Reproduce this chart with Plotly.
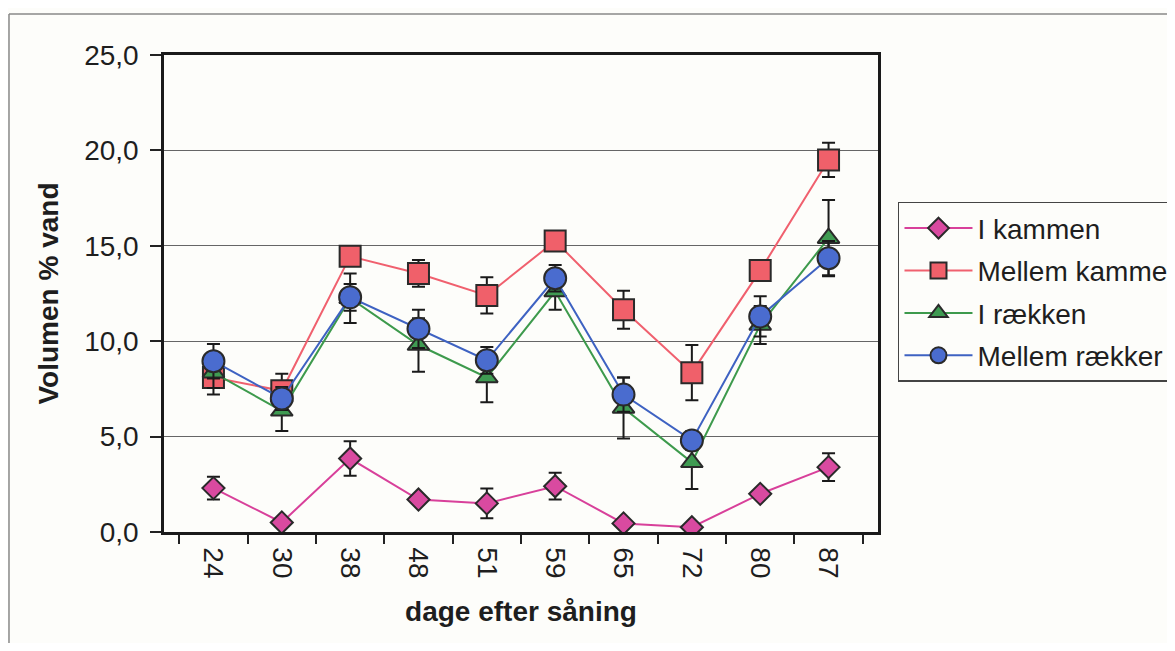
import plotly.graph_objects as go

days = ["24", "30", "38", "48", "51", "59", "65", "72", "80", "87"]

i_kammen = [2.3, 0.5, 3.85, 1.7, 1.5, 2.4, 0.45, 0.25, 2.0, 3.4]
i_kammen_err = [0.6, 0.0, 0.9, 0.2, 0.78, 0.7, 0.15, 0.1, 0.2, 0.73]

mellem_kamme = [8.1, 7.4, 14.45, 13.55, 12.4, 15.25, 11.65, 8.35, 13.7, 19.5]
mellem_kamme_err = [0.9, 0.9, 0.4, 0.7, 0.95, 0.3, 1.0, 1.45, 0.3, 0.9]

i_raekken = [8.35, 6.35, 12.25, 9.8, 8.1, 12.6, 6.5, 3.65, 10.85, 15.4]
i_raekken_err = [0.8, 1.05, 1.3, 1.4, 1.3, 0.95, 1.6, 1.4, 1.0, 2.0]

mellem_raekker = [8.95, 7.0, 12.3, 10.65, 9.0, 13.3, 7.2, 4.8, 11.3, 14.35]
mellem_raekker_err = [0.9, 0.6, 0.7, 1.0, 0.7, 0.7, 0.9, 0.5, 1.05, 0.9]

series = [
    ("I kammen", i_kammen, i_kammen_err, "#d8409a", "#d94aa0", "diamond", 17),
    ("Mellem kamme", mellem_kamme, mellem_kamme_err, "#f0606e", "#f0606a", "square", 21),
    ("I rækken", i_raekken, i_raekken_err, "#3d9a4c", "#3f9b52", "triangle-up", 19),
    ("Mellem rækker", mellem_raekker, mellem_raekker_err, "#3e62c2", "#4a6ccf", "circle", 22),
]

fig = go.Figure()
for name, vals, errs, lc, fc, sym, sz in series:
    fig.add_trace(go.Scatter(
        x=days, y=vals, name=name, mode="lines+markers", legendgroup=name,
        line=dict(color=lc, width=2),
        marker=dict(symbol=sym, size=sz, color=fc, line=dict(color="#2a2a2a", width=2)),
        error_y=dict(type="data", array=errs, visible=True, color="#1a1a1a", thickness=2, width=6.5),
    ))

# page has an 8px body margin; figure placed at (8,8); figure wider than the
# viewport so that the legend (clipped at right in the reference) does not push margins
fig.update_layout(
    width=1270, height=635,
    margin=dict(l=156, r=400, t=47, b=111),
    paper_bgcolor="#fdfdfa",
    plot_bgcolor="#fdfdfa",
    separators=", ",
    font=dict(family="Arial, Liberation Sans, sans-serif", color="#1e1e1e", size=28),
    showlegend=True,
    legend=dict(
        x=1.028, y=0.692, xanchor="left", yanchor="top",
        bordercolor="#444444", borderwidth=1.5, bgcolor="#fdfdfa",
        font=dict(size=28), tracegroupgap=3, itemsizing="trace", itemwidth=68,
    ),
)

fig.update_xaxes(
    type="category", tickangle=90, tickson="boundaries",
    ticks="outside", ticklen=9, tickcolor="#222", tickwidth=1.5,
    showline=True, linecolor="#1a1a1a", linewidth=2.5, mirror=True,
    showgrid=False, tickfont=dict(size=28), ticklabelstandoff=7,
    title=dict(text="<b>dage efter såning</b>", font=dict(size=28), standoff=24),
)
fig.update_yaxes(
    range=[0, 25], dtick=5, tickformat=".1f",
    ticks="outside", ticklen=11, tickcolor="#222", tickwidth=1.5,
    showline=True, linecolor="#1a1a1a", linewidth=2.5, mirror=True,
    showgrid=True, gridcolor="#666666", gridwidth=1.2,
    zeroline=False, tickfont=dict(size=28), ticklabelstandoff=6,
    title=dict(text="<b>Volumen % vand</b>", font=dict(size=28), standoff=18),
)

fig.add_shape(type="line", xref="paper", yref="paper", x0=-0.2171, x1=1.6, y0=1.086, y1=1.086,
              line=dict(color="#888888", width=1.5))
fig.add_shape(type="line", xref="paper", yref="paper", x0=-0.2171, x1=-0.2171, y0=1.086, y1=-0.3,
              line=dict(color="#888888", width=1.5))

fig.write_html("out.html")
